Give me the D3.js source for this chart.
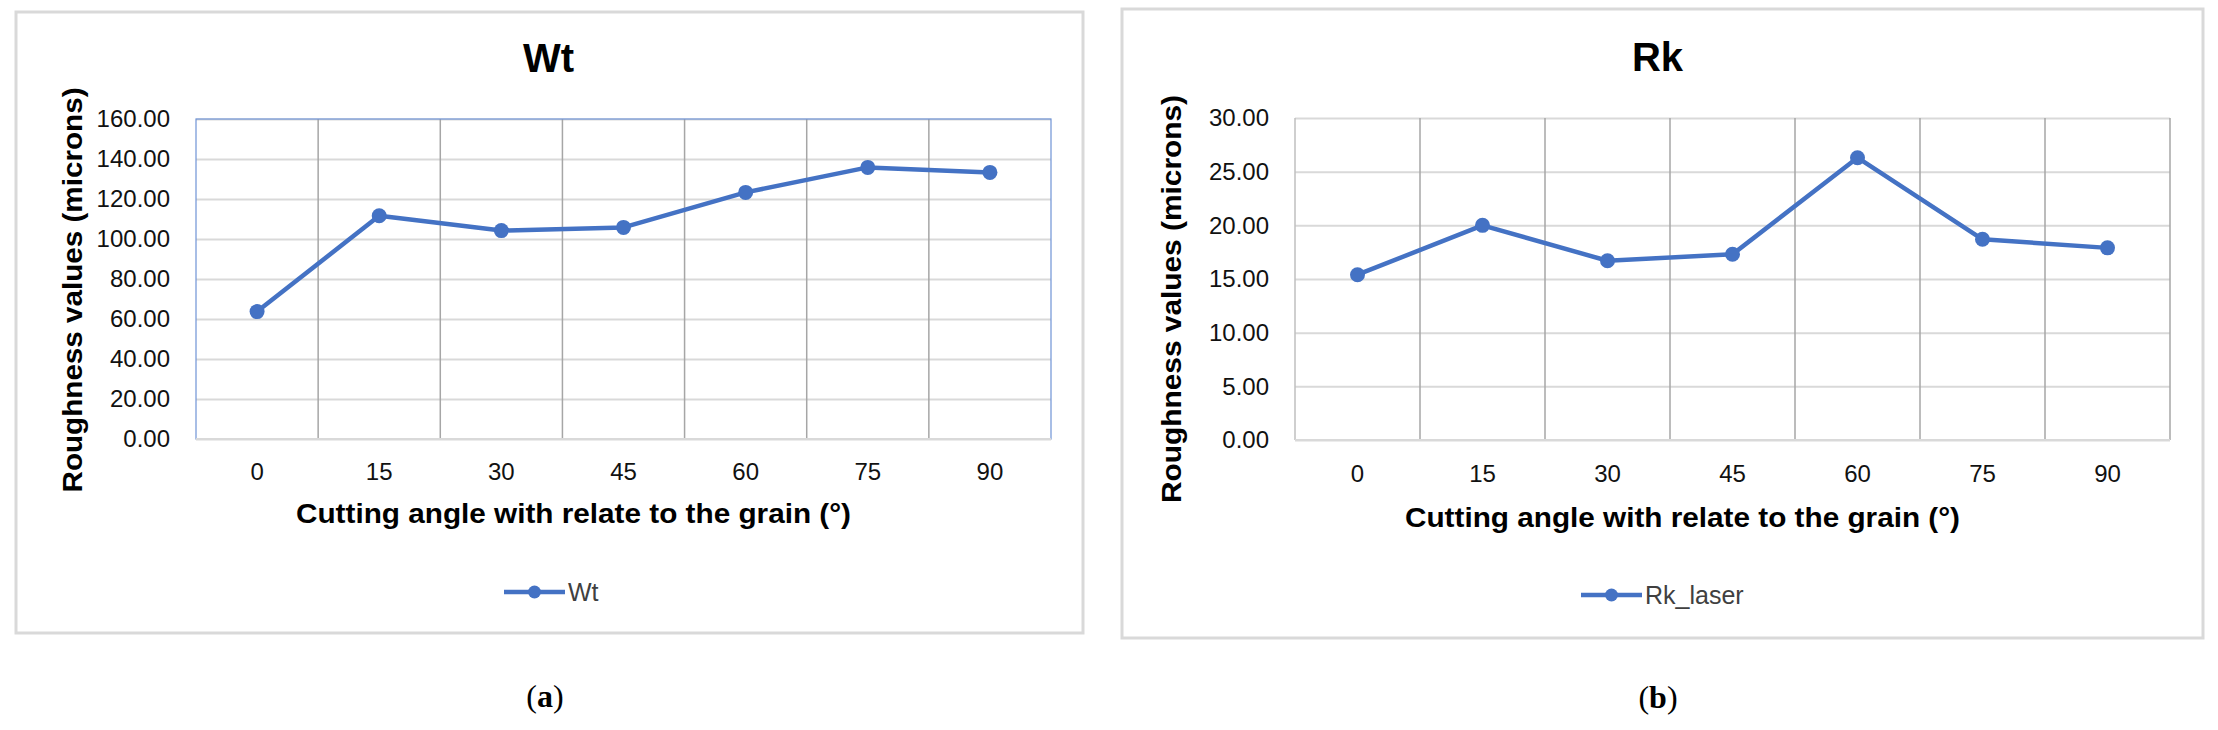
<!DOCTYPE html>
<html>
<head>
<meta charset="utf-8">
<script src="https://cdn.jsdelivr.net/npm/d3@7"></script>
<style>
  body { margin: 0; background: #fff; }
  svg { display: block; }
  text { font-family: "Liberation Sans", Arial, sans-serif; }
</style>
</head>
<body>
<div id="chart-area"></div>
<script>

// data
let angles = ["0", "15", "30", "45", "60", "75", "90"];
let wtValues = [63.7, 111.6, 104.2, 105.8, 123.3, 135.8, 133.3];
let rkValues = [15.4, 20.0, 16.7, 17.3, 26.3, 18.7, 17.9];
let wtTicks = [0, 20, 40, 60, 80, 100, 120, 140, 160];
let rkTicks = [0, 5, 10, 15, 20, 25, 30];

let width = 2218,
	height = 730;

let svg = d3.select("#chart-area").append("svg")
	.attr("width", width)
	.attr("height", height);

drawChart({
	box: {x0: 16, y0: 12, x1: 1083, y1: 633},
	plot: {left: 196, top: 119, right: 1051, bottom: 439},
	title: "Wt", legend: "Wt", caption: "a",
	values: wtValues, ticks: wtTicks,
	borderColor: "#6f93d6",
	titleY: 72, tickY: 480, xTitleY: 523, yTitleX: 82, yTitleLen: 405,
	legendY: 592, legendX: 504, captionX: 545, captionY: 707
});

drawChart({
	box: {x0: 1122, y0: 9, x1: 2203, y1: 638},
	plot: {left: 1295, top: 118, right: 2170, bottom: 440},
	title: "Rk", legend: "Rk_laser", caption: "b",
	values: rkValues, ticks: rkTicks,
	borderColor: null,
	titleY: 71, tickY: 482, xTitleY: 527, yTitleX: 1181, yTitleLen: 408,
	legendY: 595, legendX: 1581, captionX: 1658, captionY: 708
});

function drawChart(c) {
	let p = c.plot;
	let g = svg.append("g");

	// outer frame
	g.append("rect")
		.attr("x", c.box.x0).attr("y", c.box.y0)
		.attr("width", c.box.x1 - c.box.x0).attr("height", c.box.y1 - c.box.y0)
		.attr("fill", "#fff").attr("stroke", "#d9d9d9").attr("stroke-width", 3);

	let x = d3.scaleBand()
		.domain(angles)
		.range([p.left, p.right])
		.padding(0);

	let y = d3.scaleLinear()
		.domain([0, d3.max(c.ticks)])
		.range([p.bottom, p.top]);

	// horizontal gridlines
	g.append("g")
		.attr("transform", "translate(" + p.left + ",0)")
		.call(d3.axisLeft(y).tickValues(c.ticks).tickSize(-(p.right - p.left)).tickFormat(""))
		.call(a => a.select(".domain").remove())
		.call(a => a.selectAll("line").attr("stroke", "#d9d9d9").attr("stroke-width", 2));

	// vertical gridlines between categories
	g.append("g").selectAll("line")
		.data(angles.slice(1))
		.join("line")
		.attr("x1", d => x(d)).attr("x2", d => x(d))
		.attr("y1", p.top).attr("y2", p.bottom)
		.attr("stroke", "#a6a6a6").attr("stroke-width", 1.5);

	// plot border
	if (c.borderColor) {
		g.append("rect")
			.attr("x", p.left).attr("y", p.top)
			.attr("width", p.right - p.left).attr("height", p.bottom - p.top)
			.attr("fill", "none").attr("stroke", c.borderColor).attr("stroke-width", 1.2);
	} else {
		g.append("line").attr("x1", p.left).attr("x2", p.left).attr("y1", p.top).attr("y2", p.bottom)
			.attr("stroke", "#bfbfbf").attr("stroke-width", 1.5);
		g.append("line").attr("x1", p.right).attr("x2", p.right).attr("y1", p.top).attr("y2", p.bottom)
			.attr("stroke", "#a6a6a6").attr("stroke-width", 1.5);
	}
	// x axis line
	g.append("line").attr("x1", p.left).attr("x2", p.right).attr("y1", p.bottom).attr("y2", p.bottom)
		.attr("stroke", "#d9d9d9").attr("stroke-width", 2);

	// y tick labels
	g.append("g")
		.attr("transform", "translate(" + p.left + ",0)")
		.call(d3.axisLeft(y).tickValues(c.ticks).tickSize(0).tickPadding(26).tickFormat(d3.format(".2f")))
		.call(a => a.select(".domain").remove())
		.call(a => a.selectAll("text").attr("font-size", 24).attr("fill", "#111")
			.style("font-family", "'Liberation Sans', Arial, sans-serif"));

	// x tick labels
	g.append("g").selectAll("text")
		.data(angles)
		.join("text")
		.attr("x", d => x(d) + x.bandwidth() / 2)
		.attr("y", c.tickY)
		.attr("text-anchor", "middle")
		.attr("font-size", 24).attr("fill", "#111")
		.text(d => d);

	// title
	g.append("text")
		.attr("x", (p.left + p.right) / 2 - 75)
		.attr("y", c.titleY)
		.attr("text-anchor", "middle")
		.attr("font-size", 40).attr("font-weight", "bold")
		.text(c.title);

	// axis titles
	g.append("text")
		.attr("x", (p.left + p.right) / 2 - 50)
		.attr("y", c.xTitleY)
		.attr("text-anchor", "middle")
		.attr("font-size", 28).attr("font-weight", "bold")
		.attr("textLength", 555).attr("lengthAdjust", "spacingAndGlyphs")
		.text("Cutting angle with relate to the grain (°)");

	let yMid = c.title === "Wt" ? 290 : 299;
	g.append("text")
		.attr("transform", "translate(" + c.yTitleX + "," + yMid + ") rotate(-90)")
		.attr("text-anchor", "middle")
		.attr("font-size", 28).attr("font-weight", "bold")
		.attr("textLength", c.yTitleLen).attr("lengthAdjust", "spacingAndGlyphs")
		.text("Roughness values (microns)");

	// series
	let line = d3.line()
		.x((d, i) => x(angles[i]) + x.bandwidth() / 2)
		.y(d => y(d));

	g.append("path")
		.datum(c.values)
		.attr("d", line)
		.attr("fill", "none")
		.attr("stroke", "#4472c4")
		.attr("stroke-width", 4.5)
		.attr("stroke-linejoin", "round");

	g.append("g").selectAll("circle")
		.data(c.values)
		.join("circle")
		.attr("cx", (d, i) => x(angles[i]) + x.bandwidth() / 2)
		.attr("cy", d => y(d))
		.attr("r", 7.5)
		.attr("fill", "#4472c4");

	// legend
	g.append("line")
		.attr("x1", c.legendX).attr("x2", c.legendX + 61)
		.attr("y1", c.legendY).attr("y2", c.legendY)
		.attr("stroke", "#4472c4").attr("stroke-width", 4.5);
	g.append("circle")
		.attr("cx", c.legendX + 30.5).attr("cy", c.legendY).attr("r", 6.5)
		.attr("fill", "#4472c4");
	g.append("text")
		.attr("x", c.legendX + 64)
		.attr("y", c.legendY + 9)
		.attr("font-size", 25).attr("fill", "#404040")
		.text(c.legend);

	// caption
	let cap = g.append("text")
		.attr("x", c.captionX)
		.attr("y", c.captionY)
		.attr("text-anchor", "middle")
		.attr("font-size", 32)
		.style("font-family", "'Liberation Serif', 'DejaVu Serif', serif");
	cap.append("tspan").text("(");
	cap.append("tspan").attr("font-weight", "bold").text(c.caption);
	cap.append("tspan").text(")");
}

</script>
</body>
</html>
